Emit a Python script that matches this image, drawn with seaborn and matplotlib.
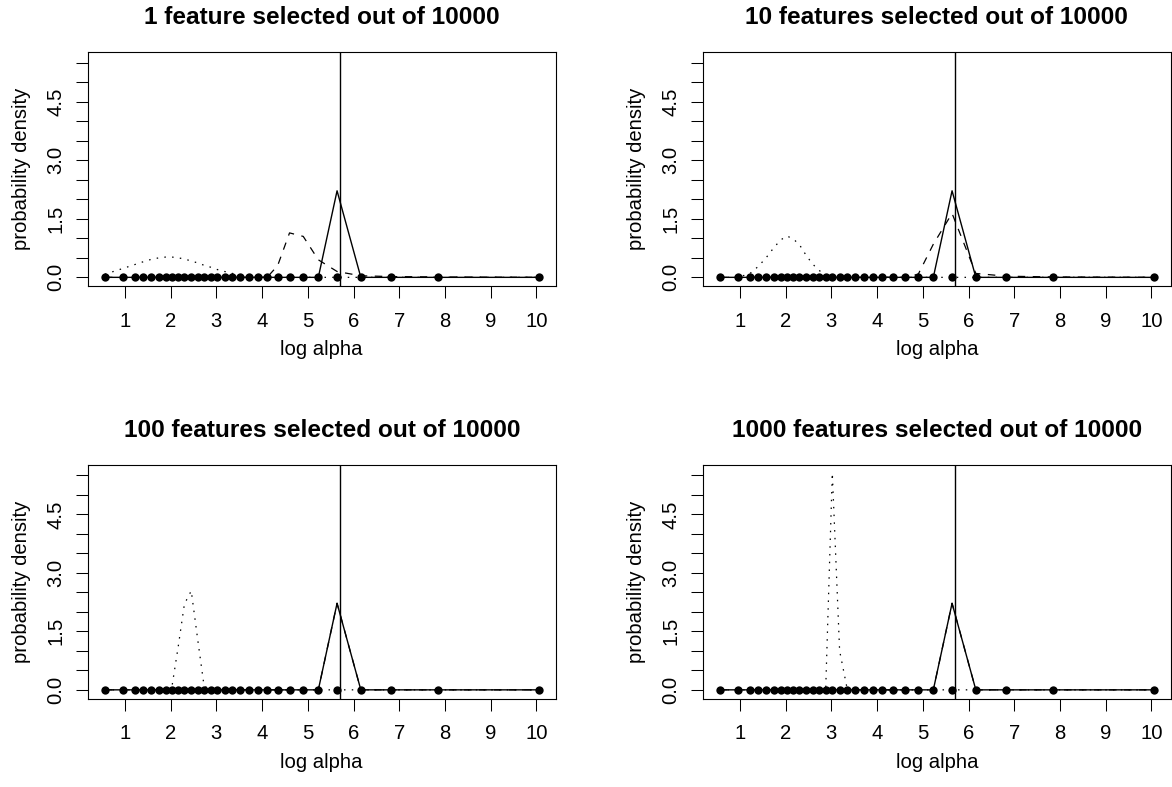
import numpy as np
import matplotlib
matplotlib.use("Agg")
import matplotlib.pyplot as plt
import seaborn as sns

# grid of log alpha values (points drawn at zero)
log_alpha = [0.56, 0.96, 1.22, 1.40, 1.57, 1.74, 1.89, 2.03, 2.17, 2.30,
             2.45, 2.59, 2.73, 2.875, 3.02, 3.18, 3.35, 3.52, 3.71, 3.90,
             4.11, 4.34, 4.60, 4.90, 5.23, 5.64, 6.16, 6.82, 7.85, 10.05]
true_log_alpha = 5.71

# solid line, same in every panel
solid_density = [0] * 25 + [2.22, 0, 0, 0, 0]

# dashed lines, one per panel
dashed_1 = [0] * 21 + [0.30, 1.14, 1.05, 0.45, 0.15, 0.04, 0.02, 0.01, 0]
dashed_10 = [0] * 23 + [0.08, 0.85, 1.64, 0.10, 0.03, 0.01, 0]
dashed_100 = [0] * 25 + [2.22, 0, 0, 0, 0]
dashed_1000 = [0] * 25 + [2.22, 0, 0, 0, 0]

# dotted lines, one per panel
dotted_1 = [0.08, 0.23, 0.33, 0.40, 0.46, 0.50, 0.52, 0.52, 0.50, 0.47,
            0.42, 0.37, 0.31, 0.26, 0.20, 0.15, 0.10, 0.06, 0.03, 0.01,
            0, 0, 0, 0, 0, 0, 0, 0, 0, 0]
dotted_10 = [0, 0, 0.10, 0.28, 0.50, 0.76, 0.96, 1.06, 0.98, 0.84,
             0.56, 0.34, 0.18, 0.05, 0] + [0] * 15
dotted_100 = [0] * 7 + [0.10, 1.15, 2.20, 2.54, 1.30, 0.10] + [0] * 17
dotted_1000 = [0] * 13 + [0, 5.56, 1.0, 0] + [0] * 13

titles = ["1 feature selected out of 10000",
          "10 features selected out of 10000",
          "100 features selected out of 10000",
          "1000 features selected out of 10000"]
x_ticks = [1, 2, 3, 4, 5, 6, 7, 8, 9, 10]
y_ticks = [0.0, 0.5, 1.0, 1.5, 2.0, 2.5, 3.0, 3.5, 4.0, 4.5, 5.0, 5.5]
y_tick_labels = ["0.0", "", "", "1.5", "", "", "3.0", "", "", "4.5", "", ""]

panels = [(dashed_1, dotted_1), (dashed_10, dotted_10),
          (dashed_100, dotted_100), (dashed_1000, dotted_1000)]

sns.set_style("white")
plt.rcParams['font.family'] = ['Liberation Sans', 'DejaVu Sans']
plt.rcParams['text.color'] = 'black'
plt.rcParams['axes.labelcolor'] = 'black'
plt.rcParams['xtick.color'] = 'black'
plt.rcParams['ytick.color'] = 'black'

W, H = 1172, 787
fig = plt.figure(figsize=(W / 100, H / 100), dpi=100)

# panel boxes in pixels: left, top
boxes = [(87.5, 52), (702.5, 52), (87.5, 464.5), (702.5, 464.5)]
bw, bh = 468.5, 234
fs = 14.6

for i, (dash, dot) in enumerate(panels):
    left, top = boxes[i]
    ax = fig.add_axes([left / W, 1 - (top + bh) / H, bw / W, bh / H])

    sns.lineplot(x=log_alpha, y=dot, ax=ax, color="black", linewidth=0.9,
                 linestyle=(0, (1.2, 5.0)))
    sns.lineplot(x=log_alpha, y=dash, ax=ax, color="black", linewidth=0.9,
                 linestyle=(0, (6, 6)))
    sns.lineplot(x=log_alpha, y=solid_density, ax=ax, color="black", linewidth=1.0)
    sns.scatterplot(x=log_alpha, y=[0] * len(log_alpha), ax=ax, color="black",
                    s=36, linewidth=0, zorder=5)
    ax.axvline(true_log_alpha, color="black", linewidth=1.0)

    ax.set_xlim(0.18, 10.43)
    ax.set_ylim(-0.222, 5.78)
    ax.set_xticks(x_ticks)
    ax.set_xticklabels([str(t) for t in x_ticks], fontsize=fs)
    ax.set_yticks(y_ticks)
    ax.set_yticklabels(y_tick_labels, fontsize=fs, rotation=90, va="center")
    ax.tick_params(axis="both", direction="out", length=8.6, width=0.75,
                   color="black", bottom=True, left=True)
    ax.tick_params(axis="x", pad=9.8)
    ax.tick_params(axis="y", pad=7.4)
    for sp in ax.spines.values():
        sp.set_color("black")
        sp.set_linewidth(0.8)

    ax.set_title(titles[i], fontsize=17.6, fontweight="bold", pad=20)
    ax.set_xlabel("log alpha", fontsize=fs)
    ax.set_ylabel("probability density", fontsize=fs)
    ax.xaxis.set_label_coords(0.5, -(340 - 286) / bh)
    ax.yaxis.set_label_coords(-(87.5 - 31) / bw, 0.5)

plt.savefig("out.png", dpi=100)
